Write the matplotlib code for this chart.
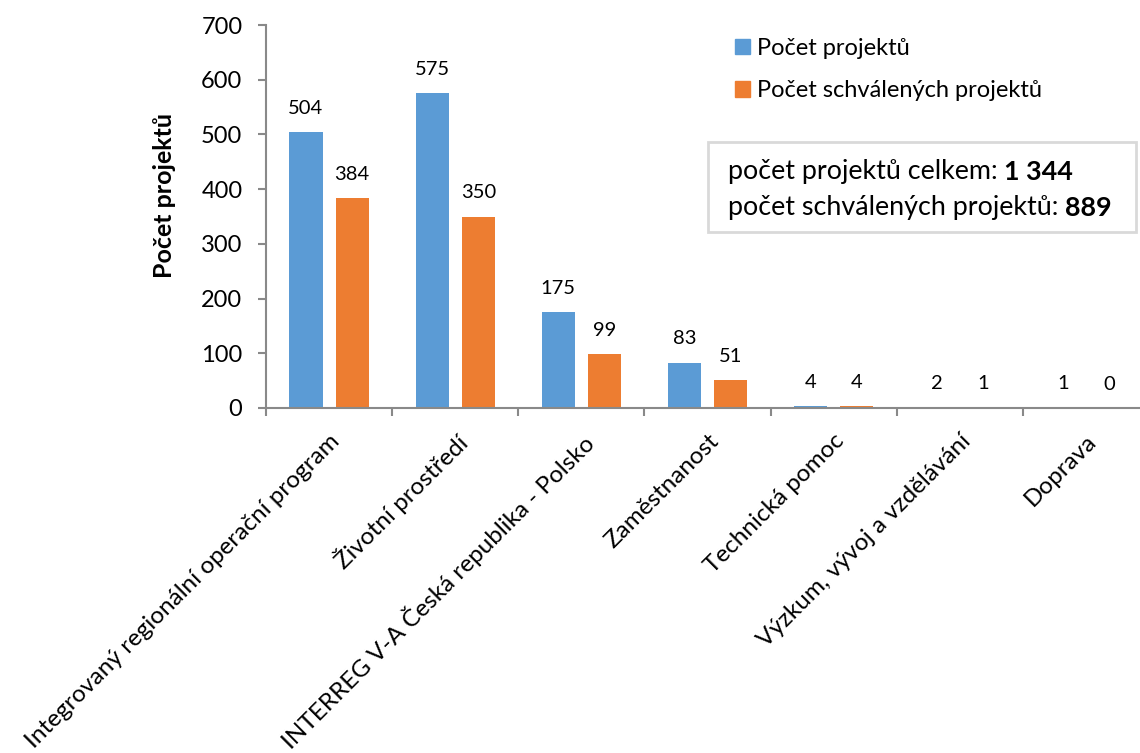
import matplotlib
matplotlib.use("Agg")
import matplotlib.pyplot as plt
from matplotlib.patches import Rectangle, Patch
import numpy as np

plt.rcParams['font.family'] = ['Lato', 'DejaVu Sans']

categories = ["Integrovaný regionální operační program", "Životní prostředí",
              "INTERREG V-A Česká republika - Polsko", "Zaměstnanost",
              "Technická pomoc", "Výzkum, vývoj a vzdělávání", "Doprava"]
pocet_projektu = [504, 575, 175, 83, 4, 2, 1]
pocet_schvalenych = [384, 350, 99, 51, 4, 1, 0]
series_names = ["Počet projektů", "Počet schválených projektů"]
yticks = [0, 100, 200, 300, 400, 500, 600, 700]
ylabel = "Počet projektů"
total_label = "počet projektů celkem: "
total_value = "1 344"
approved_label = "počet schválených projektů: "
approved_value = "889"

BLUE = "#5B9BD5"
ORANGE = "#ED7D31"
AXC = "#898989"

W, H = 1140, 753
fig = plt.figure(figsize=(W / 100, H / 100), dpi=100)
ax = fig.add_axes([266 / W, (H - 408) / H, (1149 - 266) / W, (408 - 25) / H])

x = np.arange(len(categories))
bw = 0.262
off = 0.183
b1 = ax.bar(x - off, pocet_projektu, bw, color=BLUE, label=series_names[0])
b2 = ax.bar(x + off, pocet_schvalenych, bw, color=ORANGE, label=series_names[1])

for bars, vals in ((b1, pocet_projektu), (b2, pocet_schvalenych)):
    for r, v in zip(bars, vals):
        ax.annotate(str(v), (r.get_x() + r.get_width() / 2, r.get_height()),
                    xytext=(0, 11), textcoords="offset points",
                    ha="center", va="bottom", fontsize=14.5, color="black")

ax.set_xlim(-0.5, len(categories) - 0.5)
ax.set_ylim(0, 700)
ax.set_yticks(yticks)
ax.tick_params(axis='y', labelsize=17, length=6, width=1.5, color=AXC, pad=11)
ax.set_xticks(x)
ax.set_xticklabels(categories, rotation=45, ha='right', va='top',
                   rotation_mode='anchor', fontsize=17.5)
ax.tick_params(axis='x', length=0, pad=16)
ax.set_xticks(np.arange(len(categories) + 1) - 0.5, minor=True)
ax.tick_params(axis='x', which='minor', length=6, width=1.5, color=AXC)

for s in ('top', 'right'):
    ax.spines[s].set_visible(False)
for s in ('left', 'bottom'):
    ax.spines[s].set_color(AXC)
    ax.spines[s].set_linewidth(1.5)

fig.text(165 / W, 1 - 195 / H, ylabel, rotation=90, ha='center', va='center',
         fontsize=18, fontweight='bold')

handles = [Patch(color=BLUE), Patch(color=ORANGE)]
fig.legend(handles, series_names, loc='upper left',
           bbox_to_anchor=(735 / W, 1 - 38 / H), frameon=False, fontsize=17,
           handlelength=0.63, handleheight=0.63, handletextpad=0.3,
           labelspacing=0.9, borderpad=0, borderaxespad=0)

fig.patches.append(Rectangle((708 / W, 1 - 232 / H), (1136 - 708) / W, (232 - 142) / H,
                             transform=fig.transFigure, fill=False,
                             edgecolor="#D9D9D9", linewidth=2))

renderer = fig.canvas.get_renderer()
for yy, lab, val in ((172, total_label, total_value), (208, approved_label, approved_value)):
    t = fig.text(728 / W, 1 - yy / H, lab, ha='left', va='center', fontsize=19.4)
    bb = t.get_window_extent(renderer)
    fig.text(bb.x1 / W, 1 - yy / H, val, ha='left', va='center', fontsize=19.4,
             fontweight='bold')

fig.savefig("out.png", dpi=100)
